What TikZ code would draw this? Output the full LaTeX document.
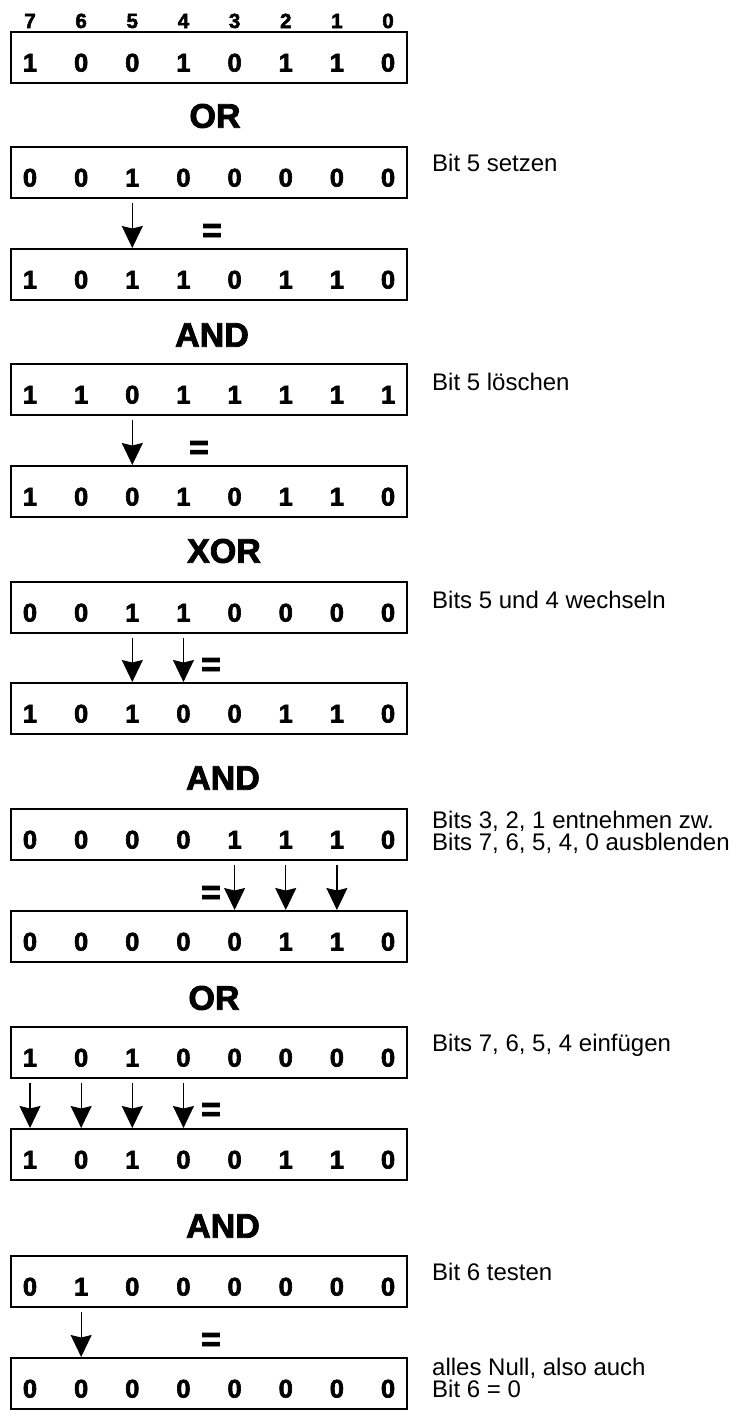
\documentclass[tikz,border=0pt]{standalone}
\usepackage{fontspec}
\setmainfont{Liberation Sans}
\newfontfamily\heavysans{Liberation Sans Bold}[FakeBold=2.5]
\usetikzlibrary{arrows.meta,calc}

\tikzset{
  regbox/.style={draw, line width=2pt, minimum width=396pt, minimum height=51pt, inner sep=0pt},
  bitdigit/.style={anchor=base, inner sep=0pt, font=\heavysans\fontsize{25.5}{25}\selectfont},
  bitindex/.style={anchor=base, inner sep=0pt, font=\heavysans\fontsize{20.5}{20}\selectfont},
  opname/.style={inner sep=0pt, font=\heavysans\fontsize{34}{34}\selectfont},
  eqsign/.style={inner sep=0pt, font=\heavysans\fontsize{34}{34}\selectfont},
  remark/.style={anchor=north west, inner sep=0pt, align=left, font=\fontsize{24}{22}\selectfont},
  bitarrow/.style={line width=1.3pt, -{Stealth[length=22pt,width=21pt,inset=2.5pt]}},
}

% one 8-bit register: name, top edge, bits from 7 down to 0
\newcommand\bitregister[3]{%
  \node[regbox] (#1) at (209,#2+25.5) {};
  \foreach \d [count=\i from 0] in {#3}
    \node[bitdigit] (#1-\i) at ({30+51.15*\i},#2+39.5) {\d};
}

% arrow from a bit of one register down to the next register
\newcommand\bitflow[3]{%
  \draw[bitarrow] ($(#1.south -| #1-#3)+(0,4)$) -- (#2.north -| #1-#3);
}

\begin{document}
\begin{tikzpicture}[x=1pt,y=-1pt]
\useasboundingbox (0,0) rectangle (748,1416);

% bit positions
\foreach \i in {0,...,7}
  \pgfmathtruncatemacro\pos{7-\i}
  \node[bitindex] (idx-\i) at ({30+51.15*\i},28) {\pos};

% OR: set bit 5
\bitregister{r1}{32}{1,0,0,1,0,1,1,0}
\node[opname] (op1) at (215,116) {OR};
\bitregister{r2}{147}{0,0,1,0,0,0,0,0}
\node[remark] (t2) at (432,171-17.4) {Bit 5 setzen};
\node[eqsign] (eq2) at (212,233) {=};
\bitregister{r3}{249}{1,0,1,1,0,1,1,0}
\bitflow{r2}{r3}{2}

% AND: clear bit 5
\node[opname] (op2) at (212,335) {AND};
\bitregister{r4}{364}{1,1,0,1,1,1,1,1}
\node[remark] (t4) at (432,390-17.4) {Bit 5 löschen};
\node[eqsign] (eq4) at (199,450) {=};
\bitregister{r5}{466}{1,0,0,1,0,1,1,0}
\bitflow{r4}{r5}{2}

% XOR: toggle bits 5 and 4
\node[opname] (op3) at (224,551) {XOR};
\bitregister{r6}{582}{0,0,1,1,0,0,0,0}
\node[remark] (t6) at (432,608-17.4) {Bits 5 und 4 wechseln};
\node[eqsign] (eq6) at (211,667) {=};
\bitregister{r7}{683}{1,0,1,0,0,1,1,0}
\bitflow{r6}{r7}{2}
\bitflow{r6}{r7}{3}

% AND: extract bits 3, 2, 1
\node[opname] (op4) at (223,778) {AND};
\bitregister{r8}{809}{0,0,0,0,1,1,1,0}
\node[remark] (t8) at (432,828-17.4) {Bits 3, 2, 1 entnehmen zw.\\Bits 7, 6, 5, 4, 0 ausblenden};
\node[eqsign] (eq8) at (211,895) {=};
\bitregister{r9}{911}{0,0,0,0,0,1,1,0}
\bitflow{r8}{r9}{4}
\bitflow{r8}{r9}{5}
\bitflow{r8}{r9}{6}

% OR: insert bits 7, 6, 5, 4
\node[opname] (op5) at (214,998) {OR};
\bitregister{r10}{1027}{1,0,1,0,0,0,0,0}
\node[remark] (t10) at (432,1051-17.4) {Bits 7, 6, 5, 4 einfügen};
\node[eqsign] (eq10) at (211,1112) {=};
\bitregister{r11}{1129}{1,0,1,0,0,1,1,0}
\bitflow{r10}{r11}{0}
\bitflow{r10}{r11}{1}
\bitflow{r10}{r11}{2}
\bitflow{r10}{r11}{3}

% AND: test bit 6
\node[opname] (op6) at (223,1226) {AND};
\bitregister{r12}{1256}{0,1,0,0,0,0,0,0}
\node[remark] (t12) at (432,1280-17.4) {Bit 6 testen};
\node[eqsign] (eq12) at (211,1342) {=};
\bitregister{r13}{1358}{0,0,0,0,0,0,0,0}
\node[remark] (t13) at (432,1375-17.4) {alles Null, also auch\\Bit 6 = 0};
\bitflow{r12}{r13}{1}
\end{tikzpicture}
\end{document}
